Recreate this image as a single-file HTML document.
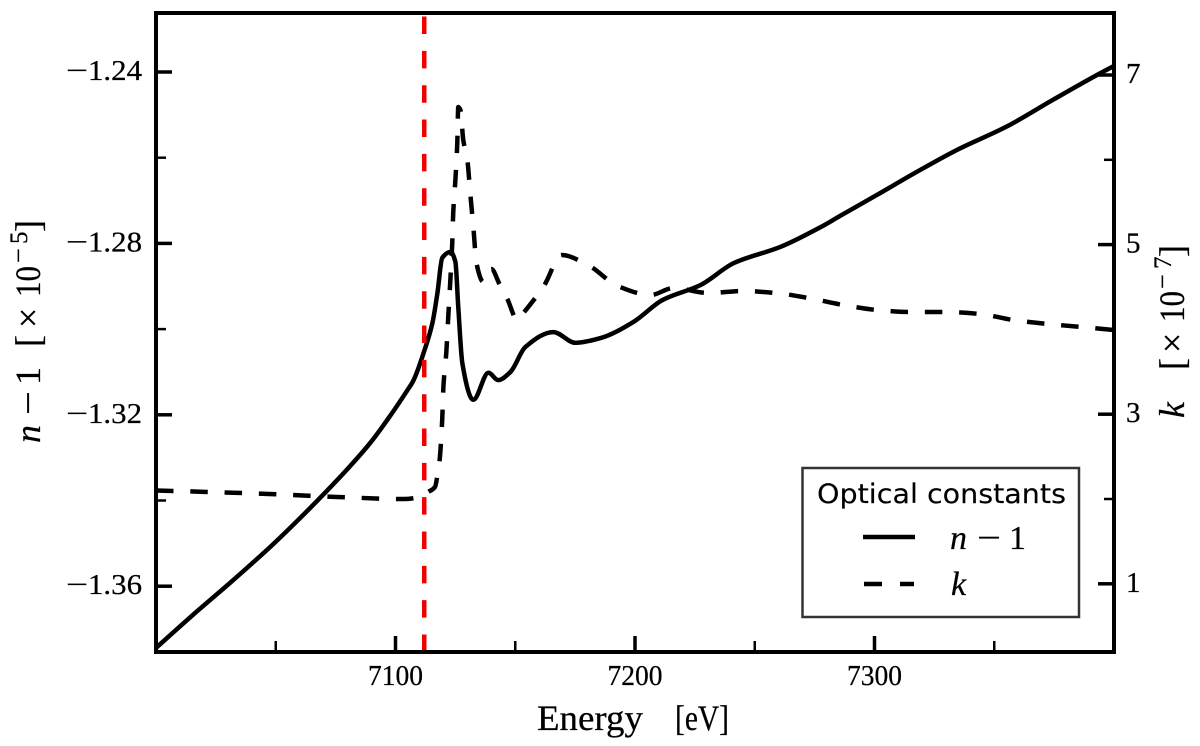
<!DOCTYPE html>
<html>
<head>
<meta charset="utf-8">
<title>Optical constants</title>
<style>
html,body{margin:0;padding:0;background:#fff;}
svg{display:block;}
text{font-family:"Liberation Serif",serif;fill:#000;stroke:#000;stroke-width:0.25;}
.leg{font-family:"DejaVu Sans",sans-serif;stroke-width:0.15;}
.it{font-style:italic;}
</style>
</head>
<body>
<svg id="chart" xmlns="http://www.w3.org/2000/svg" width="1200" height="746" viewBox="0 0 1200 746">
  <defs><clipPath id="plot-clip"><rect x="156" y="13" width="958" height="639"/></clipPath></defs>
  <g id="plot" clip-path="url(#plot-clip)"></g>
  <g id="ticks"></g>
  <rect x="156" y="13" width="958" height="639" fill="none" stroke="#000" stroke-width="4"/>

  <g>
    <text x="537" y="730" font-size="36" textLength="106" lengthAdjust="spacingAndGlyphs">Energy</text>
    <text x="675" y="730" font-size="36" textLength="54" lengthAdjust="spacingAndGlyphs">[eV]</text>
  </g>

  <g transform="translate(40,443) rotate(-90)">
    <text class="it" x="0" y="0" font-size="36">n</text>
    <text x="28" y="0" font-size="36" textLength="24" lengthAdjust="spacingAndGlyphs">−</text>
    <text x="58" y="0" font-size="36">1</text>
    <text x="96" y="0" font-size="36">[</text>
    <text x="115" y="0" font-size="36">×</text>
    <text x="146" y="0" font-size="36" textLength="31" lengthAdjust="spacingAndGlyphs">10</text>
    <text x="180" y="-13" font-size="26">−</text>
    <text x="199" y="-13" font-size="25">5</text>
    <text x="211" y="0" font-size="36">]</text>
  </g>

  <g transform="translate(1184,418) rotate(-90)">
    <text class="it" x="0" y="0" font-size="36">k</text>
    <text x="48" y="0" font-size="36">[</text>
    <text x="65" y="0" font-size="36">×</text>
    <text x="96" y="0" font-size="36" textLength="31" lengthAdjust="spacingAndGlyphs">10</text>
    <text x="129" y="-13" font-size="26">−</text>
    <text x="149" y="-13" font-size="25">7</text>
    <text x="161" y="0" font-size="36">]</text>
  </g>

  <g>
    <rect x="802.5" y="468" width="276.5" height="149" fill="#fff" stroke="#333" stroke-width="2.5"/>
    <text class="leg" x="817" y="503" font-size="27" textLength="249" lengthAdjust="spacingAndGlyphs">Optical constants</text>
    <g>
      <line x1="863" y1="537" x2="915" y2="537" stroke="#000" stroke-width="4.5"/>
      <text class="it" x="950" y="549" font-size="34">n</text>
      <text x="977" y="549" font-size="34" textLength="24" lengthAdjust="spacingAndGlyphs">−</text>
      <text x="1009" y="549" font-size="34">1</text>
    </g>
    <g>
      <line x1="864" y1="584" x2="882" y2="584" stroke="#000" stroke-width="4.5"/>
      <line x1="900" y1="584" x2="914" y2="584" stroke="#000" stroke-width="4.5"/>
      <text class="it" x="951" y="595" font-size="34">k</text>
    </g>
  </g>
</svg>
<script>
const energyN = [7000,7015.4,7032.2,7048.9,7058.9,7069.7,7081,7089.4,7097.7,7104.8,7107.4,7112,7115.4,7117.5,7119.5,7122.9,7125,7126.2,7127.9,7132.5,7138.8,7142.9,7148,7154.2,7165.9,7175.1,7185.6,7199.4,7211.5,7227.4,7241.2,7260.8,7277.5,7285.6,7301,7317.7,7334.4,7355.3,7374.5,7392.9,7400];
const valuesN = [-1.3744,-1.3667,-1.3586,-1.3502,-1.3448,-1.3387,-1.3320,-1.3266,-1.3203,-1.3144,-1.3121,-1.3051,-1.2986,-1.2916,-1.2834,-1.2820,-1.2843,-1.2948,-1.3079,-1.3165,-1.3102,-1.3119,-1.3100,-1.3042,-1.3007,-1.3032,-1.3021,-1.2983,-1.2932,-1.2897,-1.2846,-1.2808,-1.2762,-1.2736,-1.2687,-1.2633,-1.2582,-1.2527,-1.2465,-1.2407,-1.2386];
const energyK = [7000,7018.4,7047.2,7075.6,7103.5,7110.2,7113.6,7116.5,7117.7,7118.3,7119.5,7120,7121.2,7122,7122.9,7123.7,7124.1,7125,7125.8,7126.2,7127.1,7128.3,7130,7131.2,7132.5,7133.8,7136.7,7140,7143.4,7146.7,7150.9,7153.4,7162.2,7169.3,7181,7192.7,7206.5,7216.1,7230.7,7244.9,7258.7,7272.5,7286.9,7301,7315.2,7329.4,7344,7357.8,7372.4,7386.6,7400];
const valuesK = [2.1,2.086,2.059,2.024,2.0,2.024,2.083,2.142,2.318,2.425,2.932,3.321,3.722,4.134,4.583,5.019,5.373,5.762,6.198,6.623,6.587,6.233,5.998,5.608,5.208,4.783,4.559,4.712,4.535,4.358,4.111,4.193,4.524,4.877,4.748,4.512,4.406,4.488,4.429,4.453,4.429,4.370,4.288,4.229,4.205,4.205,4.182,4.111,4.064,4.028,3.993];
const edgeEnergy = [7112];
const xMajorTicks = [7100,7200,7300];
const xMinorTicks = [7050,7150,7250,7350];
const leftMajorTicks = [-1.24,-1.28,-1.32,-1.36];
const leftMinorTicks = [-1.26,-1.30,-1.34];
const rightMajorTicks = [7,5,3,1];
const rightMinorTicks = [6,4,2];

function xScale(e){ return 156 + (e - 7000) * 958 / 400; }
function yLeft(v){ return 72 + (-1.24 - v) * 4285; }
function yRight(v){ return 75 + (7 - v) * 84.8; }

const SVGNS = 'http://www.w3.org/2000/svg';
const plot = document.getElementById('plot');
const ticks = document.getElementById('ticks');
const chart = document.getElementById('chart');

/* Monotone cubic path through the data points */
function smoothPath(xs, ys, yFn){
  const px = xs.map(xScale);
  const py = ys.map(yFn);
  const n = px.length;
  const slopes = [];
  for (let i = 0; i < n - 1; i++) {
    slopes.push((py[i + 1] - py[i]) / (px[i + 1] - px[i]));
  }
  const m = [slopes[0]];
  for (let i = 1; i < n - 1; i++) {
    if (slopes[i - 1] * slopes[i] <= 0) {
      m.push(0);
    } else {
      const h0 = px[i] - px[i - 1];
      const h1 = px[i + 1] - px[i];
      const w0 = 2 * h1 + h0;
      const w1 = h1 + 2 * h0;
      m.push((w0 + w1) / (w0 / slopes[i - 1] + w1 / slopes[i]));
    }
  }
  m.push(slopes[n - 2]);
  let d = 'M' + px[0].toFixed(2) + ',' + py[0].toFixed(2);
  for (let i = 0; i < n - 1; i++) {
    const h = (px[i + 1] - px[i]) / 3;
    d += 'C' + (px[i] + h).toFixed(2) + ',' + (py[i] + m[i] * h).toFixed(2) + ' ' +
         (px[i + 1] - h).toFixed(2) + ',' + (py[i + 1] - m[i + 1] * h).toFixed(2) + ' ' +
         px[i + 1].toFixed(2) + ',' + py[i + 1].toFixed(2);
  }
  return d;
}

const lineN = document.createElementNS(SVGNS, 'path');


lineN.setAttribute('d', smoothPath(energyN, valuesN, yLeft));
lineN.setAttribute('fill', 'none');
lineN.setAttribute('stroke', '#000');
lineN.setAttribute('stroke-width', '4.5');
lineN.setAttribute('stroke-linejoin', 'round');
plot.appendChild(lineN);

const lineK = document.createElementNS(SVGNS, 'path');


lineK.setAttribute('d', smoothPath(energyK, valuesK, yRight));
lineK.setAttribute('fill', 'none');
lineK.setAttribute('stroke', '#000');
lineK.setAttribute('stroke-width', '4.5');
lineK.setAttribute('stroke-dasharray', '17.5 16.8');
lineK.setAttribute('stroke-linejoin', 'round');
plot.appendChild(lineK);

edgeEnergy.forEach(function(e){
  const edge = document.createElementNS(SVGNS, 'line');
  
  
  edge.setAttribute('x1', xScale(e));
  edge.setAttribute('x2', xScale(e));
  edge.setAttribute('y1', 652);
  edge.setAttribute('y2', 13);
  edge.setAttribute('stroke', '#f00000');
  edge.setAttribute('stroke-width', '4.5');
  edge.setAttribute('stroke-dasharray', '17.5 16.83');
  plot.appendChild(edge);
});

function addTick(x1, y1, x2, y2, width, name){
  const t = document.createElementNS(SVGNS, 'line');
  
  
  t.setAttribute('x1', x1);
  t.setAttribute('y1', y1);
  t.setAttribute('x2', x2);
  t.setAttribute('y2', y2);
  t.setAttribute('stroke', '#000');
  t.setAttribute('stroke-width', width);
  ticks.appendChild(t);
}

function addLabel(str, x, y, anchor, len, name){
  const t = document.createElementNS(SVGNS, 'text');
  
  
  t.setAttribute('x', x);
  t.setAttribute('y', y);
  t.setAttribute('font-size', '29');
  t.setAttribute('text-anchor', anchor);
  if (len) {
    t.setAttribute('textLength', len);
    t.setAttribute('lengthAdjust', 'spacingAndGlyphs');
  }
  t.textContent = str;
  chart.appendChild(t);
}

xMajorTicks.forEach(function(v){
  addTick(xScale(v), 652, xScale(v), 636, 3.5, 'x-major-tick');
  addLabel(String(v), xScale(v) - 27.5, 685, 'start', 55, 'x-tick-label');
});
xMinorTicks.forEach(function(v){
  addTick(xScale(v), 652, xScale(v), 641, 2.5, 'x-minor-tick');
});
leftMajorTicks.forEach(function(v){
  addTick(156, yLeft(v), 172, yLeft(v), 3.5, 'left-major-tick');
  addLabel('−', 66, yLeft(v) + 8, 'start', 22, 'left-tick-minus');
  addLabel(Math.abs(v).toFixed(2), 88, yLeft(v) + 8, 'start', 54, 'left-tick-label');
});
leftMinorTicks.forEach(function(v){
  addTick(156, yLeft(v), 166, yLeft(v), 2.5, 'left-minor-tick');
});
rightMajorTicks.forEach(function(v){
  addTick(1114, yRight(v), 1098, yRight(v), 3.5, 'right-major-tick');
  addLabel(String(v), 1126, yRight(v) + 8, 'start', 0, 'right-tick-label');
});
rightMinorTicks.forEach(function(v){
  addTick(1114, yRight(v), 1104, yRight(v), 2.5, 'right-minor-tick');
});
</script>
</body>
</html>
